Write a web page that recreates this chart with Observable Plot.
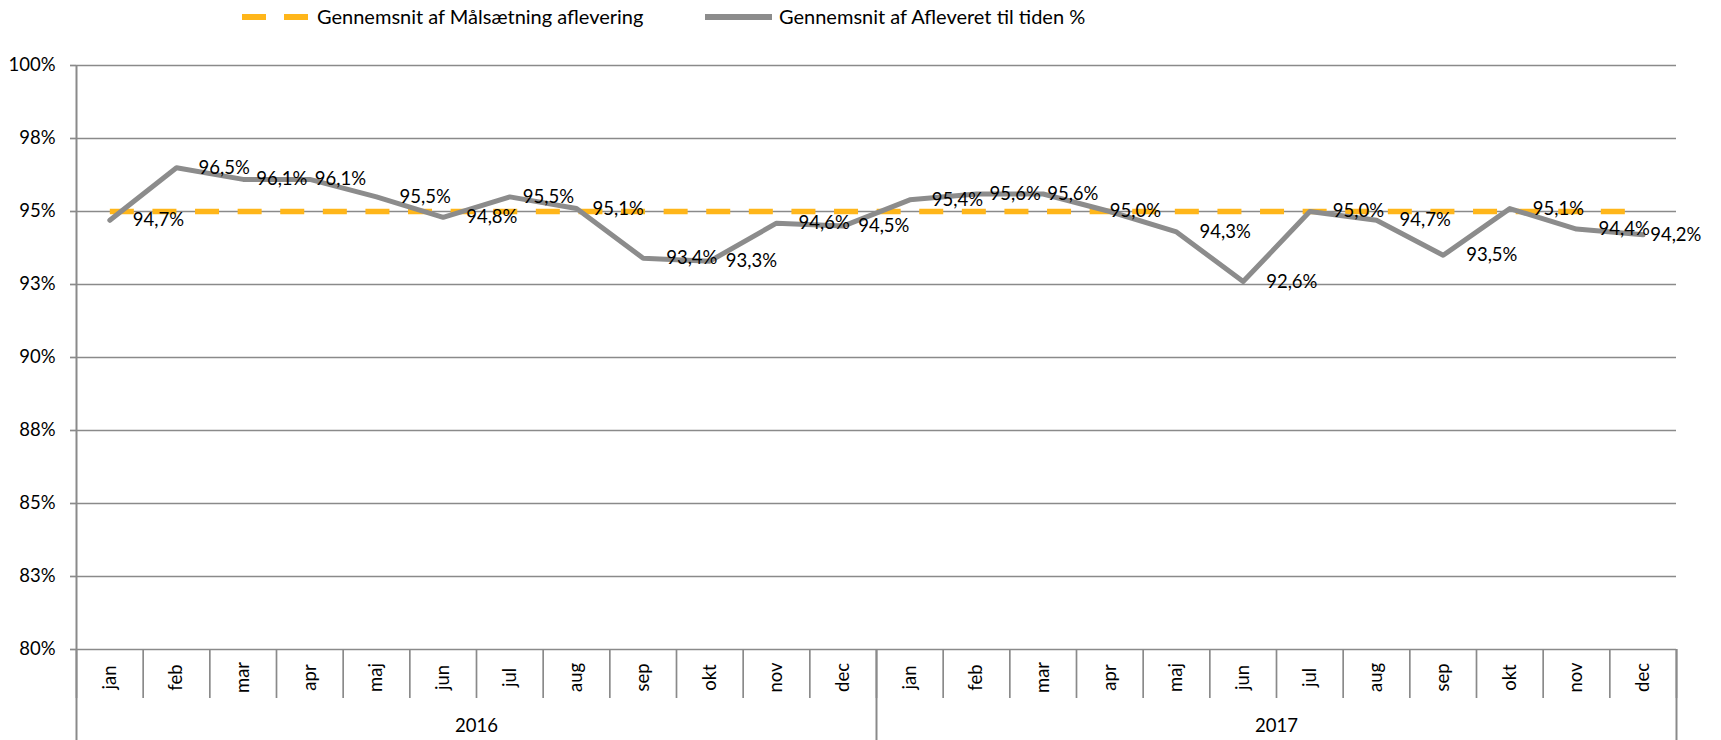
<!DOCTYPE html>
<html>
<head>
<meta charset="utf-8">
<script src="https://cdn.jsdelivr.net/npm/d3@7"></script>
<script src="https://cdn.jsdelivr.net/npm/@observablehq/plot@0.6"></script>
<style>
  html, body { margin: 0; padding: 0; background: #fff; }
  #legend { position: relative; width: 1721px; height: 40px; font-family: Lato, sans-serif; font-size: 20px; color: #000; }
  #legend .sw { position: absolute; height: 6px; }
  #legend .lt { position: absolute; top: 5px; line-height: 22px; white-space: nowrap; }
  #chart svg { display: block; }
</style>
</head>
<body>
<div id="legend"></div>
<div id="chart"></div>
<script>
// ---- data ----
const months = ["jan", "feb", "mar", "apr", "maj", "jun", "jul", "aug", "sep", "okt", "nov", "dec"];
const years = ["2016", "2017"];
const afleveret2016 = [94.7, 96.5, 96.1, 96.1, 95.5, 94.8, 95.5, 95.1, 93.4, 93.3, 94.6, 94.5];
const afleveret2017 = [95.4, 95.6, 95.6, 95.0, 94.3, 92.6, 95.0, 94.7, 93.5, 95.1, 94.4, 94.2];
const maal2016 = [95, 95, 95, 95, 95, 95, 95, 95, 95, 95, 95, 95];
const maal2017 = [95, 95, 95, 95, 95, 95, 95, 95, 95, 95, 95, 95];
const yTicks = [80, 82.5, 85, 87.5, 90, 92.5, 95, 97.5, 100];
const yTickLabels = ["80%", "83%", "85%", "88%", "90%", "93%", "95%", "98%", "100%"];
const seriesNames = ["Gennemsnit af Målsætning aflevering", "Gennemsnit af Afleveret til tiden %"];

// label placement (style only): horizontal offset of each data label from its point, px
const labelDx = [23, 22, 13, 5, 23, 23, 13, 16, 23, 16, 22, 15,
                 22, 13, 4, 0, 23, 23, 23, 23, 23, 23, 22, 7];

// ---- build table ----
const afleveret = [afleveret2016, afleveret2017];
const maal = [maal2016, maal2017];
const rows = [];
years.forEach((yr, yi) => months.forEach((m, mi) => {
  rows.push({i: yi * months.length + mi, year: yr, month: m, value: afleveret[yi][mi], goal: maal[yi][mi]});
}));
const monthBounds = rows.map(d => d.i - 0.5).concat([rows[rows.length - 1].i + 0.5]);
const yearRows = years.map(yr => {
  const r = rows.filter(d => d.year === yr);
  return {year: yr, start: r[0].i - 0.5, end: r[r.length - 1].i + 0.5, center: (r[0].i + r[r.length - 1].i) / 2};
});
const yearBounds = [yearRows[0].start].concat(yearRows.map(d => d.end));

const ORANGE = "#FFB61A";
const GRAYLINE = "#8C8C8C";
const GRID = "#8A8A8A";
const fmt = v => d3.format(".1f")(v).replace(".", ",") + "%";

// ---- legend ----
const legend = document.getElementById("legend");
legend.innerHTML = `
  <div class="sw" style="left:242px;top:14px;width:24px;background:${ORANGE}"></div>
  <div class="sw" style="left:284px;top:14px;width:24px;background:${ORANGE}"></div>
  <span class="lt" style="left:317px">${seriesNames[0]}</span>
  <div class="sw" style="left:705px;top:14px;width:67px;background:${GRAYLINE}"></div>
  <span class="lt" style="left:779px">${seriesNames[1]}</span>
`;

// ---- chart ----
const chart = Plot.plot({
  width: 1721,
  height: 700,
  marginTop: 25,
  marginBottom: 91,
  marginLeft: 76,
  marginRight: 45,
  style: {fontFamily: "Lato, sans-serif", fontSize: "18px", color: "#000", background: "#fff"},
  x: {type: "linear", domain: [monthBounds[0], monthBounds[monthBounds.length - 1]]},
  y: {type: "linear", domain: [yTicks[0], yTicks[yTicks.length - 1]]},
  marks: [
    Plot.gridY(yTicks, {stroke: GRID, strokeOpacity: 1, strokeWidth: 1.7}),
    Plot.axisY(yTicks, {
      tickSize: 6, tickPadding: 15, stroke: GRID, strokeWidth: 1.7, fill: "#000", fontSize: 18.5,
      tickFormat: d => yTickLabels[yTicks.indexOf(d)]
    }),
    Plot.ruleX([monthBounds[0]], {stroke: GRID, strokeWidth: 2}),
    Plot.axisX(monthBounds, {tickSize: 49, stroke: GRID, strokeWidth: 1.7, tickFormat: () => ""}),
    Plot.axisX(yearBounds, {tickSize: 91, stroke: GRID, strokeWidth: 2, tickFormat: () => ""}),
    Plot.text(rows, {x: "i", text: "month", frameAnchor: "bottom", rotate: -90, dy: 28,
      textAnchor: "middle", lineAnchor: "middle", fill: "#000", fontSize: 18.5}),
    Plot.text(yearRows, {x: "center", text: "year", frameAnchor: "bottom", dy: 77,
      lineAnchor: "middle", fill: "#000", fontSize: 18.5}),
    Plot.line(rows, {x: "i", y: "goal", stroke: ORANGE, strokeWidth: 5.5, strokeDasharray: "24,18.6", strokeLinecap: "butt"}),
    Plot.line(rows, {x: "i", y: "value", stroke: GRAYLINE, strokeWidth: 5, strokeLinejoin: "round"}),
    ...rows.map(d => Plot.text([d], {x: "i", y: "value", text: r => fmt(r.value), textAnchor: "start",
      dx: labelDx[d.i], lineAnchor: "middle", fill: "#000", fontSize: 18.5}))
  ]
});
document.getElementById("chart").appendChild(chart);
</script>
</body>
</html>
